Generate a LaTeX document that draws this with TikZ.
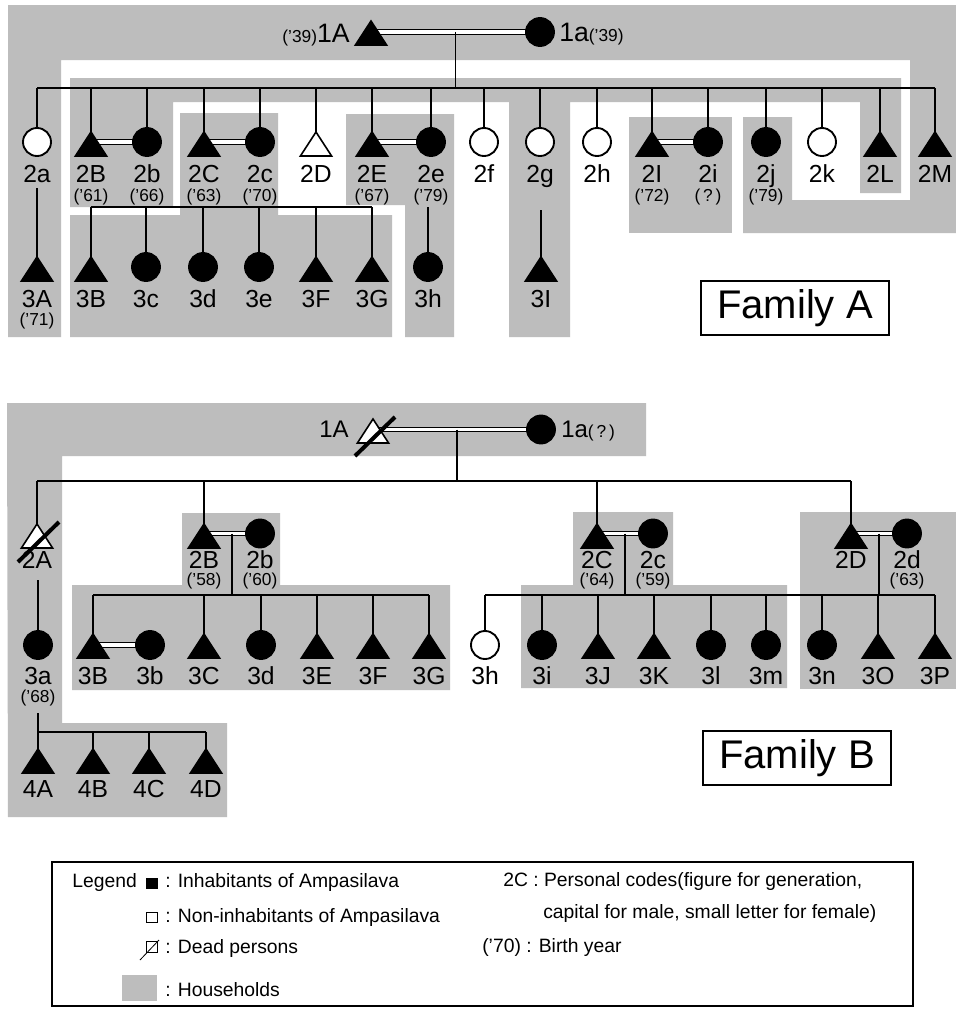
\documentclass[tikz,border=0pt]{standalone}
\usepackage{fontspec}
\setmainfont{Liberation Sans}
\usetikzlibrary{shapes.geometric,calc}
\pgfdeclarelayer{bg}
\pgfdeclarelayer{mid}
\pgfsetlayers{bg,mid,main}
\definecolor{hh}{gray}{0.74}
\newcommand\yrf{\fontsize{13}{13.5}\selectfont}
\tikzset{
  house/.style={fill=hh},
  ln/.style={line width=1.3pt},
  marr/.style={draw=black, line width=0.95pt, double=white, double distance=2.3pt},
  tri/.style={isosceles triangle, isosceles triangle apex angle=66, shape border rotate=90, minimum height=18pt, minimum width=18pt, inner sep=0pt, outer sep=0pt, draw=black, line width=1.2pt, anchor=lower side},
  cir/.style={circle, minimum size=21pt, inner sep=0pt, outer sep=0pt, draw=black, line width=1.4pt, anchor=south},
  code/.style={font=\fontsize{18.5}{19}\selectfont, inner sep=0pt, anchor=base},
  yr/.style={font=\yrf, inner sep=0pt, anchor=base},
  gA/.style={font=\fontsize{20}{20}\selectfont, inner sep=0pt},
  gB/.style={font=\fontsize{18}{18}\selectfont, inner sep=0pt},
  dead/.style={line width=3pt},
  fam/.style={draw=black, line width=1.5pt, inner sep=0pt, minimum width=141pt, minimum height=40pt, font=\fontsize{30}{30}\selectfont},
  leg/.style={font=\fontsize{14.5}{15}\selectfont, inner sep=0pt, anchor=base west},
}
\begin{document}
\begin{tikzpicture}[x=0.75pt,y=-0.75pt]
\useasboundingbox (0,0) rectangle (956,1021);
\begin{pgfonlayer}{bg}
\fill[white] (0,0) rectangle (956,1021);
% Family A households
\fill[house] (8,5) -- (956,5) -- (956,233) -- (743,233) -- (743,117) -- (792,117) -- (792,200) -- (910,200) -- (910,60) -- (61,60) -- (61,337) -- (8,337) -- cycle;
\fill[house] (70,78) -- (901,78) -- (901,193) -- (860,193) -- (860,102) -- (570,102) -- (570,337) -- (509,337) -- (509,102) -- (173,102) -- (173,207) -- (70,207) -- cycle;
\fill[house] (180,113) -- (278,113) -- (278,215) -- (392,215) -- (392,337) -- (70,337) -- (70,215) -- (180,215) -- cycle;
\fill[house] (346,114) -- (454,114) -- (454,337) -- (405,337) -- (405,205) -- (346,205) -- cycle;
\fill[house] (629,117) rectangle (732,233);
% Family B households
\fill[house] (7,403) -- (646,403) -- (646,456) -- (62,456) -- (62,723) -- (227,723) -- (227,817) -- (8,817) -- cycle;
\fill[house] (182,513) -- (280,513) -- (280,585) -- (450,585) -- (450,690) -- (72,690) -- (72,585) -- (182,585) -- cycle;
\fill[house] (573,512) -- (673,512) -- (673,585) -- (787,585) -- (787,688) -- (521,688) -- (521,585) -- (573,585) -- cycle;
\fill[house] (800,512) rectangle (956,689);
\end{pgfonlayer}

% level coordinates
\coordinate (yA1) at (0,88);
\coordinate (yA2) at (0,207);
\coordinate (yA3) at (0,188);
\coordinate (yA4) at (0,210);
\coordinate (yA5) at (0,182);
\coordinate (yA6) at (0,201);
\coordinate (yA7) at (0,307);
\coordinate (yA8) at (0,325);
\coordinate (yB1) at (0,481);
\coordinate (yB2) at (0,595);
\coordinate (yB3) at (0,580);
\coordinate (yB4) at (0,713);
\coordinate (yB5) at (0,732);
\coordinate (yB6) at (0,568);
\coordinate (yB7) at (0,585);
\coordinate (yB8) at (0,684);
\coordinate (yB9) at (0,702);
\coordinate (yB10) at (0,797);

% ---------------- Family A persons
\node[tri, fill=black] (A1A) at (371,45) {};
\node[cir, fill=black] (A1a) at (540,46) {};
\node[gA, anchor=base east] (tA1A) at (350,42) {{\yrf('39)}1A};
\node[gA, anchor=base west] (tA1a) at (559,41) {1a{\yrf('39)}};

\foreach \n/\x/\f in {A2a/37/white, A2b/147/black, A2c/260/black, A2e/431/black, A2f/484/white, A2g/540/white, A2h/597/white, A2i/708/black, A2j/766/black, A2k/822/white}
  \node[cir, fill=\f] (\n) at (\x,156) {};
\foreach \n/\x/\f in {A2B/91/black, A2C/204/black, A2D/316/white, A2E/372/black, A2I/652/black, A2L/880/black, A2M/935/black}
  \node[tri, fill=\f] (\n) at (\x,156) {};
\foreach \n/\x/\f in {A3c/146/black, A3d/203/black, A3e/259/black, A3h/428/black}
  \node[cir, fill=\f] (\n) at (\x,281) {};
\foreach \n/\x/\f in {A3A/37/black, A3B/91/black, A3F/316/black, A3G/372/black, A3I/541/black}
  \node[tri, fill=\f] (\n) at (\x,281) {};

\foreach \n/\t in {A2a/2a, A2B/2B, A2b/2b, A2C/2C, A2c/2c, A2D/2D, A2E/2E, A2e/2e, A2f/2f, A2g/2g, A2h/2h, A2I/2I, A2i/2i, A2j/2j, A2k/2k, A2L/2L, A2M/2M}
  \node[code] (l\n) at (\n.center |- yA5) {\t};
\node[yr] (yrA2B) at (A2B.center |- yA6) {('61)};
\node[yr] (yrA2b) at (A2b.center |- yA6) {('66)};
\node[yr] (yrA2C) at (A2C.center |- yA6) {('63)};
\node[yr] (yrA2c) at (A2c.center |- yA6) {('70)};
\node[yr] (yrA2E) at (A2E.center |- yA6) {('67)};
\node[yr] (yrA2e) at (A2e.center |- yA6) {('79)};
\node[yr] (yrA2I) at (A2I.center |- yA6) {('72)};
\node[yr] (yrA2i) at (A2i.center |- yA6) {(\,?\,)};
\node[yr] (yrA2j) at (A2j.center |- yA6) {('79)};
\foreach \n/\t in {A3A/3A, A3B/3B, A3c/3c, A3d/3d, A3e/3e, A3F/3F, A3G/3G, A3h/3h, A3I/3I}
  \node[code] (l\n) at (\n.center |- yA7) {\t};
\node[yr] (yrA3A) at (A3A.center |- yA8) {('71)};

\node[fam] (famA) at (795,308) {Family A};

% ---------------- Family B persons
\node[tri, fill=white] (B1A) at (373,443) {};
\node[cir, fill=black] (B1a) at (541,443.5) {};
\node[gB, anchor=base east] (tB1A) at (349,437) {1A};
\node[gB, anchor=base west] (tB1a) at (561,437) {1a{\yrf(\,?\,)}};

\foreach \n/\x/\f in {B2A/37/white, B2B/204/black, B2C/597/black, B2D/851/black}
  \node[tri, fill=\f] (\n) at (\x,548) {};
\foreach \n/\x/\f in {B2b/260/black, B2c/653/black, B2d/907/black}
  \node[cir, fill=\f] (\n) at (\x,547.5) {};
\foreach \n/\x/\f in {B3a/38/black, B3b/150/black, B3d/261/black, B3h/485/white, B3i/542/black, B3l/711/black, B3m/766/black, B3n/822/black}
  \node[cir, fill=\f] (\n) at (\x,659) {};
\foreach \n/\x/\f in {B3B/93/black, B3C/204/black, B3E/317/black, B3F/373/black, B3G/429/black, B3J/598/black, B3K/654/black, B3O/878/black, B3P/935/black}
  \node[tri, fill=\f] (\n) at (\x,658) {};
\foreach \n/\x in {B4A/38, B4B/93, B4C/149, B4D/206}
  \node[tri, fill=black] (\n) at (\x,773) {};

\foreach \n/\t in {B2A/2A, B2B/2B, B2b/2b, B2C/2C, B2c/2c, B2D/2D, B2d/2d}
  \node[code] (l\n) at (\n.center |- yB6) {\t};
\node[yr] (yrB2B) at (B2B.center |- yB7) {('58)};
\node[yr] (yrB2b) at (B2b.center |- yB7) {('60)};
\node[yr] (yrB2C) at (B2C.center |- yB7) {('64)};
\node[yr] (yrB2c) at (B2c.center |- yB7) {('59)};
\node[yr] (yrB2d) at (B2d.center |- yB7) {('63)};
\foreach \n/\t in {B3a/3a, B3B/3B, B3b/3b, B3C/3C, B3d/3d, B3E/3E, B3F/3F, B3G/3G, B3h/3h, B3i/3i, B3J/3J, B3K/3K, B3l/3l, B3m/3m, B3n/3n, B3O/3O, B3P/3P}
  \node[code] (l\n) at (\n.center |- yB8) {\t};
\node[yr] (yrB3a) at (B3a.center |- yB9) {('68)};
\foreach \n/\t in {B4A/4A, B4B/4B, B4C/4C, B4D/4D}
  \node[code] (l\n) at (\n.center |- yB10) {\t};

\node[fam] (famB) at (797,758) {Family B};

% dead slashes
\draw[dead] ([shift={(-18,13)}]B1A.lower side) -- ([shift={(22,-26)}]B1A.lower side);
\draw[dead] ([shift={(-19,14)}]B2A.lower side) -- ([shift={(22,-26)}]B2A.lower side);

% ---------------- connectors
\begin{pgfonlayer}{mid}
% Family A
\coordinate (Aml) at (A1A.lower side |- A1a.center);
\coordinate (Am) at ($(Aml)!.5!(A1a.center)$);
\draw[marr] (Aml) -- (A1a.center);
\draw[ln] (Am) -- (Am |- yA1);
\draw[ln] (A2a.north |- yA1) -- (A2M.apex |- yA1);
\foreach \n in {A2a,A2b,A2c,A2e,A2f,A2g,A2h,A2i,A2j,A2k} \draw[ln] (\n.north |- yA1) -- (\n.north);
\foreach \n in {A2B,A2C,A2D,A2E,A2I,A2L,A2M} \draw[ln] (\n.apex |- yA1) -- (\n.apex);
\foreach \m/\w in {A2B/A2b,A2C/A2c,A2E/A2e,A2I/A2i} \draw[marr] (\m.lower side |- \w.center) -- (\w.center);
\draw[ln] (A3B.apex |- yA2) -- (A3G.apex |- yA2);
\foreach \n in {A3B,A3F,A3G} \draw[ln] (\n.apex |- yA2) -- (\n.apex);
\foreach \n in {A3c,A3d,A3e} \draw[ln] (\n.north |- yA2) -- (\n.north);
\draw[ln] (A3A.apex |- yA3) -- (A3A.apex);
\draw[ln] (A3h.north |- yA2) -- (A3h.north);
\draw[ln] (A3I.apex |- yA4) -- (A3I.apex);
% Family B
\coordinate (Bml) at (B1A.lower side |- B1a.center);
\coordinate (Bm) at ($(Bml)!.5!(B1a.center)$);
\draw[marr] (Bml) -- (B1a.center);
\draw[ln] (Bm) -- (Bm |- yB1);
\draw[ln] (B2A.apex |- yB1) -- (B2D.apex |- yB1);
\foreach \n in {B2A,B2B,B2C,B2D} \draw[ln] (\n.apex |- yB1) -- (\n.apex);
\foreach \m/\w in {B2B/B2b,B2C/B2c,B2D/B2d,B3B/B3b} {
  \coordinate (m\m) at (\m.lower side |- \w.center);
  \draw[marr] (m\m) -- (\w.center);
}
\foreach \m/\w in {B2B/B2b,B2C/B2c,B2D/B2d} {
  \coordinate (d\m) at ($(m\m)!.5!(\w.center)$);
  \draw[ln] (d\m) -- (d\m |- yB2);
}
\draw[ln] (B3B.apex |- yB2) -- (B3G.apex |- yB2);
\draw[ln] (B3h.north |- yB2) -- (B3P.apex |- yB2);
\foreach \n in {B3B,B3C,B3E,B3F,B3G,B3J,B3K,B3O,B3P} \draw[ln] (\n.apex |- yB2) -- (\n.apex);
\foreach \n in {B3d,B3h,B3i,B3l,B3m,B3n} \draw[ln] (\n.north |- yB2) -- (\n.north);
\draw[ln] (B3a.north |- yB3) -- (B3a.north);
\draw[ln] (B3a.north |- yB4) -- (B3a.north |- yB5);
\draw[ln] (B4A.apex |- yB5) -- (B4D.apex |- yB5);
\foreach \n in {B4A,B4B,B4C,B4D} \draw[ln] (\n.apex |- yB5) -- (\n.apex);
\end{pgfonlayer}

% ---------------- legend
\draw[line width=1.2pt] (52,862) rectangle (913,1006);
\node[leg] (lgd) at (72,887) {Legend};
\node[draw=black, fill=black, minimum width=8.5pt, minimum height=7.5pt, inner sep=0pt, line width=0.6pt] (sq1) at (152,883) {};
\node[leg] (t1) at (165,887) {: Inhabitants of Ampasilava};
\node[draw=black, fill=white, minimum width=8.5pt, minimum height=7.5pt, inner sep=0pt, line width=0.6pt] (sq2) at (152,917) {};
\node[leg] (t2) at (165,922) {: Non-inhabitants of Ampasilava};
\node[draw=black, fill=white, minimum width=8.5pt, minimum height=8pt, inner sep=0pt, line width=0.6pt] (sq3) at (152,947) {};
\draw[line width=0.6pt] ([shift={(-12,13)}]sq3.center) -- ([shift={(7,-7)}]sq3.center);
\node[leg] (t3) at (165,953) {: Dead persons};
\node[fill=hh, minimum width=26pt, minimum height=20pt, inner sep=0pt] (sq4) at (139.5,988) {};
\node[leg] (t4) at (165,996) {: Households};
\node[leg] (t5) at (503,886) {2C : Personal codes(figure for generation,};
\node[leg] (t6) at (543,918) {capital for male, small letter for female)};
\node[leg] (t7) at (482,952) {('70) : Birth year};
\end{tikzpicture}
\end{document}
